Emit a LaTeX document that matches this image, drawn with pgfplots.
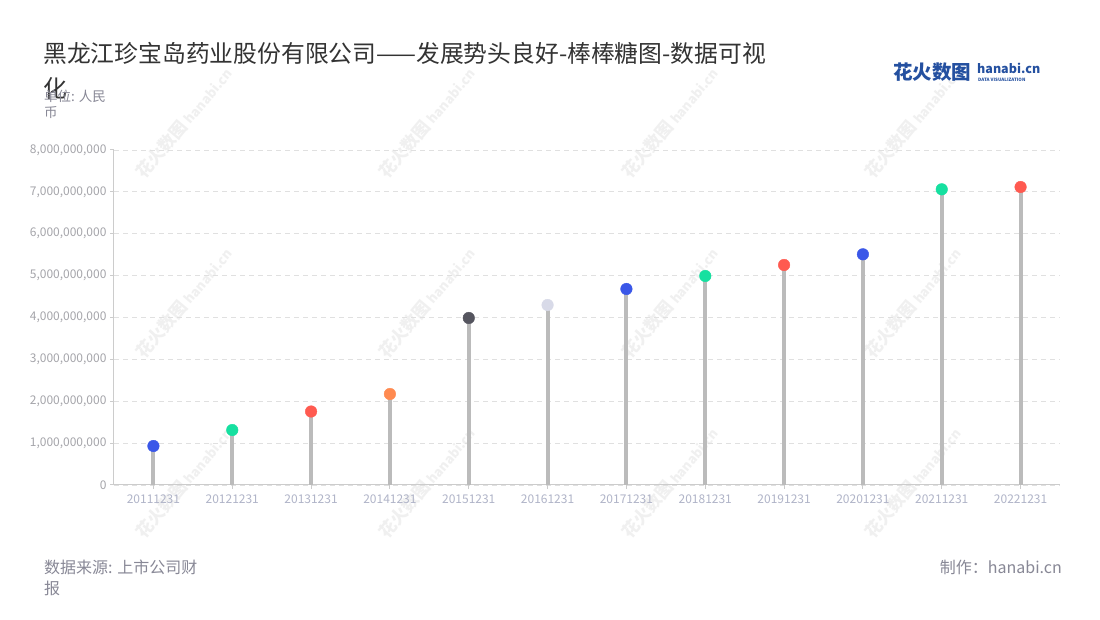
\documentclass[border=0pt]{standalone}
\usepackage{fontspec}
\setmainfont{Noto Sans CJK SC}
\usepackage{pgfplots}
\usepackage{pgfplotstable}
\pgfplotsset{compat=1.18}
\definecolor{cblue}{RGB}{58,87,232}
\definecolor{cgreen}{RGB}{22,224,160}
\definecolor{cred}{RGB}{255,90,80}
\definecolor{corange}{RGB}{255,138,80}
\definecolor{cdark}{RGB}{85,85,95}
\definecolor{clight}{RGB}{216,218,232}
\definecolor{stem}{RGB}{187,187,187}
\definecolor{axisc}{RGB}{204,204,204}
\definecolor{gridc}{RGB}{224,224,224}
\definecolor{ytl}{RGB}{165,165,170}
\definecolor{xtl}{RGB}{176,180,200}
\definecolor{titlec}{RGB}{51,51,51}
\definecolor{subc}{RGB}{136,136,150}
\definecolor{wm}{RGB}{240,240,240}
\definecolor{logoblue}{RGB}{36,80,160}

\pgfplotstableread{
x y c
0 0.931e9 b
1 1.313e9 g
2 1.755e9 r
3 2.173e9 o
4 3.988e9 d
5 4.298e9 l
6 4.681e9 b
7 4.991e9 g
8 5.254e9 r
9 5.509e9 b
10 7.061e9 g
11 7.116e9 r
}\datatable

\begin{document}
\begin{tikzpicture}[x=1pt,y=1pt]
\path[use as bounding box, fill=white] (0,0) rectangle (1100,620);
% watermarks
\foreach \wx in {184,427,670,913}{
  \foreach \wy in {123,303,483}{
    \node[rotate=50, text=wm, inner sep=0pt] at (\wx,620-\wy)
      {\fontsize{17}{17}\selectfont\bfseries 花火数图\hspace{4pt}{\fontsize{13}{13}\selectfont hanabi.cn}};
  }
}
% title
\node[anchor=west, text=titlec, inner sep=0pt] at (43,620-53)
  {\fontsize{23.8}{23.8}\selectfont 黑龙江珍宝岛药业股份有限公司——发展势头良好-棒棒糖图-数据可视};
\node[anchor=west, text=titlec, inner sep=0pt] at (43,620-88)
  {\fontsize{23.8}{23.8}\selectfont 化};
\node[anchor=west, text=subc, inner sep=0pt] at (44,620-96)
  {\fontsize{13.5}{13.5}\selectfont 单位: 人民};
\node[anchor=west, text=subc, inner sep=0pt] at (44,620-113)
  {\fontsize{13.5}{13.5}\selectfont 币};
% logo
\node[anchor=west, text=logoblue, inner sep=0pt] at (893,620-72)
  {\fontsize{19.5}{19.5}\selectfont\bfseries 花火数图};
\node[anchor=west, text=logoblue, inner sep=0pt] at (977,620-68)
  {\fontsize{12.5}{12.5}\selectfont\bfseries hanabi.cn};
\node[anchor=west, text=logoblue, inner sep=0pt] at (978,620-80)
  {\fontsize{4.5}{4.5}\selectfont\bfseries DATA VISUALIZATION};
% footer
\node[anchor=west, text=subc, inner sep=0pt] at (44,620-567)
  {\fontsize{16}{16}\selectfont 数据来源: 上市公司财};
\node[anchor=west, text=subc, inner sep=0pt] at (44,620-588)
  {\fontsize{16}{16}\selectfont 报};
\node[anchor=east, text=subc, inner sep=0pt] at (1062,620-567)
  {\fontsize{16}{16}\selectfont 制作：hanabi.cn};

\begin{axis}[
  at={(114pt,135pt)}, anchor=south west,
  scale only axis, width=946pt, height=335pt,
  xmin=-0.5, xmax=11.5, ymin=0, ymax=8e9,
  axis lines*=left,
  axis line style={axisc, line width=1pt},
  xtick={0,...,11},
  xticklabels={20111231,20121231,20131231,20141231,20151231,20161231,20171231,20181231,20191231,20201231,20211231,20221231},
  ytick={0,1e9,2e9,3e9,4e9,5e9,6e9,7e9,8e9},
  scaled y ticks=false,
  yticklabel style={/pgf/number format/fixed, /pgf/number format/precision=0, /pgf/number format/1000 sep={,}, /pgf/number format/assume math mode=true},
  tick align=outside,
  major tick length=4pt,
  tick style={axisc, line width=1pt},
  x tick label style={text=xtl, font=\fontsize{12}{12}\selectfont, yshift=-2pt},
  y tick label style={text=ytl, font=\fontsize{12}{12}\selectfont},
  ymajorgrids,
  grid style={gridc, dash pattern=on 5pt off 4pt, line width=0.8pt},
  clip=false,
]
\addplot[ycomb, stem, line width=4pt, no markers] table[x=x,y=y] {\datatable};
\addplot[scatter, only marks, mark=*, mark size=5.8pt,
  scatter src=explicit symbolic,
  scatter/classes={
    b={mark=*, cblue, draw=cblue, fill=cblue},
    g={mark=*, cgreen, draw=cgreen, fill=cgreen},
    r={mark=*, cred, draw=cred, fill=cred},
    o={mark=*, corange, draw=corange, fill=corange},
    d={mark=*, cdark, draw=cdark, fill=cdark},
    l={mark=*, clight, draw=clight, fill=clight}}
] table[x=x,y=y,meta=c] {\datatable};
\end{axis}
\end{tikzpicture}
\end{document}
